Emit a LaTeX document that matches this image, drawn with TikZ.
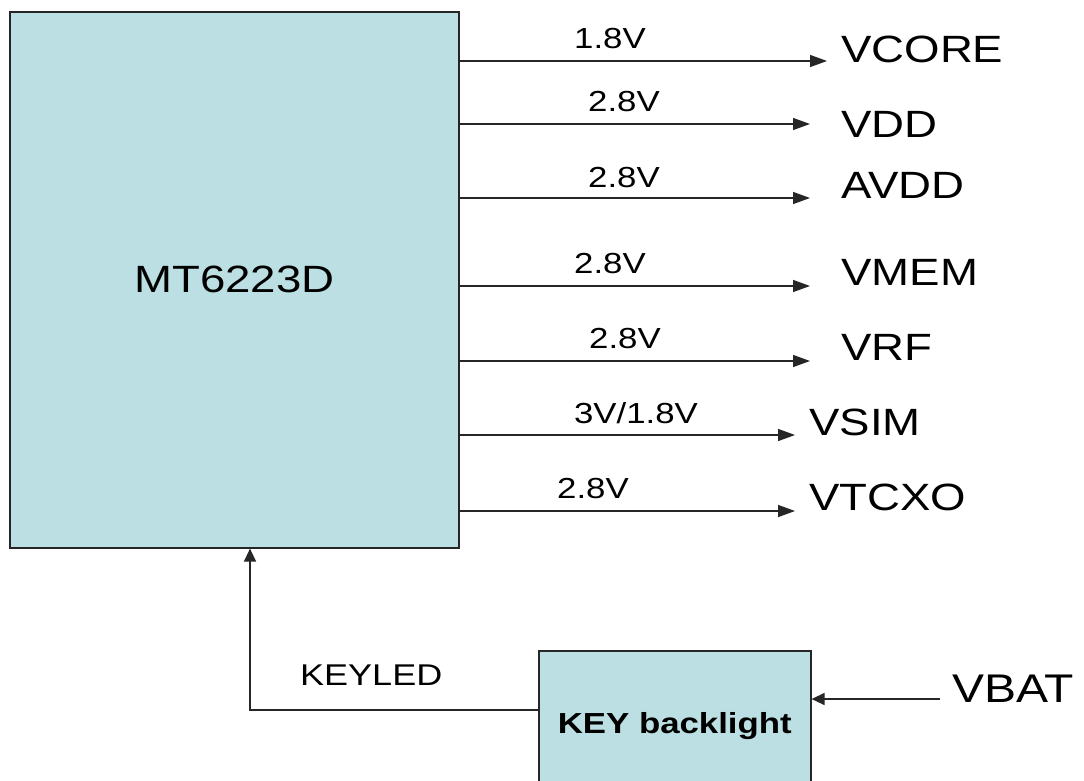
\documentclass[tikz,border=0pt]{standalone}
\usepackage{fontspec}
\setmainfont{Liberation Sans}[FakeStretch=1.2]
\usetikzlibrary{arrows.meta}
\definecolor{boxfill}{HTML}{BBDFE2}
\begin{document}
\begin{tikzpicture}[x=1pt,y=-1pt,
  blk/.style={draw=black!85,line width=1.6pt,fill=boxfill,inner sep=0pt},
  arr/.style={draw=black!85,line width=1.4pt,-{Triangle[length=17pt,width=12pt]}},
  sarr/.style={draw=black!85,line width=1.4pt,-{Triangle[length=13pt,width=12pt]}},
  volt/.style={inner sep=0pt,anchor=base,font=\fontsize{29}{31}\selectfont},
  sig/.style={inner sep=0pt,anchor=base west,font=\fontsize{38}{40}\selectfont}]
\clip (0,0) rectangle (1084,780);
\fill[white] (0,0) rectangle (1084,780);
% main chip
\node[blk,anchor=north west,minimum width=449pt,minimum height=536pt,
  font=\fontsize{38}{40}\selectfont] (mt) at (9,11) {MT6223D};
% key backlight block
\node[blk,anchor=north west,minimum width=272pt,minimum height=150pt,
  font=\fontsize{29}{31}\selectfont\bfseries] (kb) at (538,650) {KEY backlight};
% right-hand signal labels
\node[sig] (vcore) at (841,62) {VCORE};
\node[sig] (vdd)   at (841,137) {VDD};
\node[sig] (avdd)  at (841,198) {AVDD};
\node[sig] (vmem)  at (841,285) {VMEM};
\node[sig] (vrf)   at (841,360) {VRF};
\node[sig] (vsim)  at (809,435) {VSIM};
\node[sig] (vtcxo) at (809,510) {VTCXO};
\node[sig,font=\fontsize{40}{42}\selectfont] (vbat) at (952,702) {VBAT};
% voltage labels
\node[volt] (l1) at (610,48) {1.8V};
\node[volt] (l2) at (624,111) {2.8V};
\node[volt] (l3) at (624,187) {2.8V};
\node[volt] (l4) at (610,273) {2.8V};
\node[volt] (l5) at (625,348) {2.8V};
\node[volt] (l6) at (636,423) {3V/1.8V};
\node[volt] (l7) at (593,498) {2.8V};
\node[inner sep=0pt,anchor=base west,font=\fontsize{30}{32}\selectfont] (kled) at (300,685) {KEYLED};
% arrow end points
\coordinate (e1) at (827,61);
\coordinate (e2) at (810,124);
\coordinate (e3) at (810,198);
\coordinate (e4) at (810,286);
\coordinate (e5) at (810,361);
\coordinate (e6) at (795,435);
\coordinate (e7) at (795,511);
\foreach \i in {1,...,7}{\draw[arr] (mt.east |- e\i) -- (e\i);}
% KEYLED feedback
\coordinate (kc) at (250,710);
\draw[sarr] (kb.west |- kc) -- (kc) -- (kc |- mt.south);
% VBAT input
\coordinate (vb) at (940,699);
\draw[sarr] (vb) -- (kb.east |- vb);
\end{tikzpicture}
\end{document}
